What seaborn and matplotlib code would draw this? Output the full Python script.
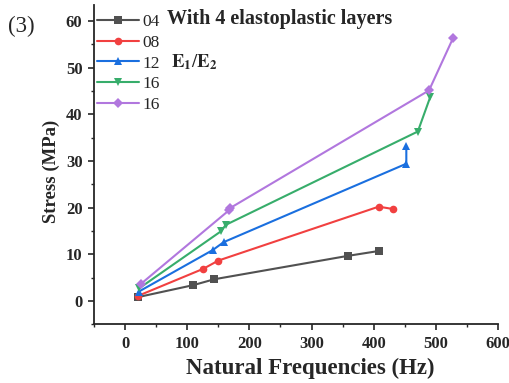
import numpy as np
import pandas as pd
import matplotlib
matplotlib.use("Agg")
import matplotlib.pyplot as plt
import seaborn as sns
from matplotlib.ticker import MultipleLocator

sns.set_style("ticks")
plt.rcParams['font.family'] = ['Liberation Serif', 'DejaVu Serif']
plt.rcParams['mathtext.fontset'] = 'stix'

labels = ["04", "08", "12", "16", "16"]
colors = ["#515151", "#F14040", "#1A6FDF", "#37AD6B", "#B177DE"]
markers = ["s", "o", "^", "v", "D"]

freq_04 = [20, 110, 143.5, 358, 408]
stress_04 = [0.8, 3.4, 4.65, 9.65, 10.7]
freq_08 = [21, 126, 150, 408, 431]
stress_08 = [1.1, 6.9, 8.65, 20.2, 19.7]
freq_12 = [22, 141, 158.6, 452.5, 452.5]
stress_12 = [2.0, 10.9, 12.6, 29.4, 33.1]
freq_16a = [22.6, 154, 162, 471, 491]
stress_16a = [2.7, 14.9, 16.3, 36.3, 43.7]
freq_16b = [25, 167, 169, 489, 528]
stress_16b = [3.6, 19.4, 19.9, 45.1, 56.4]

freqs = [freq_04, freq_08, freq_12, freq_16a, freq_16b]
stresses = [stress_04, stress_08, stress_12, stress_16a, stress_16b]

rows = []
for i, (f, s) in enumerate(zip(freqs, stresses)):
    for j, (a, b) in enumerate(zip(f, s)):
        rows.append({"series": f"s{i}", "freq": a, "stress": b, "order": j})
df = pd.DataFrame(rows)

W, H = 509, 383
fig = plt.figure(figsize=(W / 100, H / 100), dpi=100)
ax_l, ax_r, ax_t, ax_b = 94, 498, 5, 324.3
ax = fig.add_axes([ax_l / W, 1 - ax_b / H, (ax_r - ax_l) / W, (ax_b - ax_t) / H])

keys = [f"s{i}" for i in range(5)]
sns.lineplot(data=df, x="freq", y="stress", hue="series", style="series",
             hue_order=keys, style_order=keys,
             palette=dict(zip(keys, colors)), markers=dict(zip(keys, markers)),
             dashes=False, sort=False, estimator=None, ax=ax,
             linewidth=1.5, markersize=5.5, markeredgewidth=0, legend=False)

ax.set_xlim(-50, 600)
ax.set_ylim(-5, 63.4)
ax.xaxis.set_major_locator(MultipleLocator(100))
ax.xaxis.set_minor_locator(MultipleLocator(50))
ax.yaxis.set_major_locator(MultipleLocator(10))
ax.yaxis.set_minor_locator(MultipleLocator(5))
ax.tick_params(which='major', direction='out', length=4.3, width=1.2, labelsize=12, pad=4)
ax.tick_params(which='minor', direction='out', length=2.5, width=1.0)
for lab in ax.get_xticklabels() + ax.get_yticklabels():
    lab.set_fontweight('bold')
for sp in ['left', 'bottom']:
    ax.spines[sp].set_linewidth(1.3)
sns.despine(ax=ax)

ax.set_xlabel("Natural Frequencies (Hz)", fontsize=16.5, fontweight='bold')
ax.set_ylabel("Stress (MPa)", fontsize=13.5, fontweight='bold')
ax.xaxis.set_label_coords((310 - ax_l) / (ax_r - ax_l), -(379 - ax_b) / (ax_b - ax_t))
ax.yaxis.set_label_coords(-(94 - 43) / (ax_r - ax_l), (ax_b - 171.5) / (ax_b - ax_t))
ax.xaxis.label.set_va('bottom')
ax.yaxis.label.set_va('top')

handles = [plt.Line2D([], [], color=c, marker=m, linewidth=1.5, markersize=5.5,
                      markeredgewidth=0) for c, m in zip(colors, markers)]
ax.legend(handles, labels, loc='upper left', bbox_to_anchor=(-0.018, 1.006),
          frameon=False, fontsize=12.5, handlelength=2.4, handletextpad=0.2,
          labelspacing=0.275, borderaxespad=0.2)

fig.text(167 / W, 1 - 19 / H, "With 4 elastoplastic layers", fontsize=14.5,
         fontweight='bold', va='center', ha='left')
fig.text(171 / W, 1 - 62 / H, r"$\mathbf{E}_\mathbf{1}/\mathbf{E}_\mathbf{2}$",
         fontsize=13.5, va='center', ha='left')
fig.text(8 / W, 1 - 26 / H, "(3)", fontsize=16.5, va='center', ha='left')

fig.savefig("out.png", dpi=100)
